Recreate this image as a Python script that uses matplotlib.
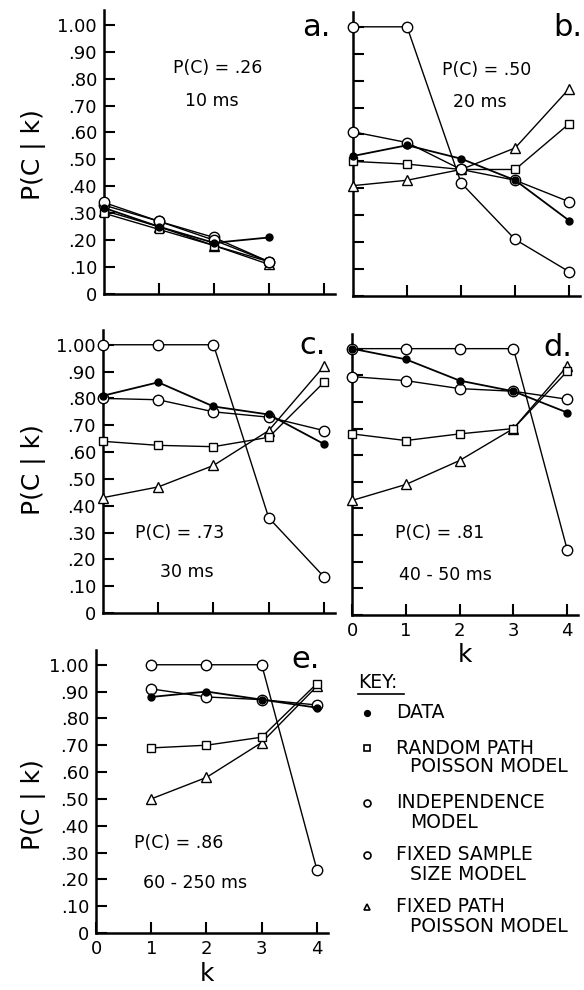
import matplotlib
matplotlib.use('Agg')
import matplotlib.pyplot as plt
from matplotlib.lines import Line2D

plt.rcParams['font.family'] = 'DejaVu Sans'

W, H = 584, 990

# number of items k at which P(C|k) is plotted
k_a = [0, 1, 2, 3]
k_bcd = [0, 1, 2, 3, 4]
k_e = [1, 2, 3, 4]

# panel a: 10 ms
a_data = [0.32, 0.25, 0.19, 0.21]
a_random = [0.30, 0.24, 0.18, 0.12]
a_indep = [0.33, 0.27, 0.21, 0.12]
a_fixsize = [0.34, 0.27, 0.20, 0.12]
a_fixpath = [0.31, 0.25, 0.18, 0.11]

# panel b: 20 ms
b_data = [0.52, 0.56, 0.51, 0.43, 0.28]
b_random = [0.50, 0.49, 0.47, 0.47, 0.64]
b_indep = [1.00, 1.00, 0.42, 0.21, 0.09]
b_fixsize = [0.61, 0.57, 0.47, 0.43, 0.35]
b_fixpath = [0.41, 0.43, 0.47, 0.55, 0.77]

# panel c: 30 ms
c_data = [0.81, 0.86, 0.77, 0.74, 0.63]
c_random = [0.64, 0.625, 0.62, 0.655, 0.86]
c_indep = [1.00, 1.00, 1.00, 0.355, 0.135]
c_fixsize = [0.80, 0.795, 0.75, 0.73, 0.68]
c_fixpath = [0.43, 0.47, 0.55, 0.68, 0.92]

# panel d: 40 - 50 ms
d_data = [1.00, 0.96, 0.88, 0.84, 0.76]
d_random = [0.68, 0.655, 0.68, 0.70, 0.915]
d_indep = [1.00, 1.00, 1.00, 1.00, 0.245]
d_fixsize = [0.895, 0.88, 0.85, 0.84, 0.81]
d_fixpath = [0.43, 0.49, 0.58, 0.70, 0.935]

# panel e: 60 - 250 ms
e_data = [0.88, 0.90, 0.87, 0.84]
e_random = [0.69, 0.70, 0.73, 0.93]
e_indep = [1.00, 1.00, 1.00, 0.235]
e_fixsize = [0.91, 0.88, 0.87, 0.85]
e_fixpath = [0.50, 0.58, 0.71, 0.92]

ytick_vals = [0, .1, .2, .3, .4, .5, .6, .7, .8, .9, 1.0]
ytick_labels = ['0', '.10', '.20', '.30', '.40', '.50', '.60', '.70', '.80', '.90', '1.00']
xtick_labels = ['0', '1', '2', '3', '4']

fig = plt.figure(figsize=(W / 100, H / 100), dpi=100)


def panel(l, r, t, b):
    ax = fig.add_axes([l / W, 1 - b / H, (r - l) / W, (b - t) / H])
    ax.set_xlim(0, 4.2)
    ax.set_ylim(0, 1.055)
    for s in ['top', 'right']:
        ax.spines[s].set_visible(False)
    for s in ['left', 'bottom']:
        ax.spines[s].set_linewidth(1.8)
    ax.tick_params(direction='in', length=8, width=1.5, labelsize=13, pad=5)
    ax.set_yticks(ytick_vals)
    return ax


def draw(ax, k, data, random, indep, fixsize, fixpath):
    kw = dict(color='k', lw=1.0, clip_on=False, mec='k', mfc='white')
    ax.plot(k, fixpath, marker='^', ms=7, zorder=3, **kw)
    ax.plot(k, random, marker='s', ms=6, zorder=3, **kw)
    ax.plot(k, indep, marker='o', ms=7.5, zorder=3, **kw)
    ax.plot(k, fixsize, marker='o', ms=7.5, zorder=3, **kw)
    ax.plot(k, data, color='k', lw=1.3, marker='o', ms=5, mfc='k', mec='k',
            clip_on=False, zorder=4)


ax_a = panel(104, 335, 10, 294)
draw(ax_a, k_a, a_data, a_random, a_indep, a_fixsize, a_fixpath)
ax_b = panel(353, 580, 12, 296)
draw(ax_b, k_bcd, b_data, b_random, b_indep, b_fixsize, b_fixpath)
ax_c = panel(103, 335, 330, 613)
draw(ax_c, k_bcd, c_data, c_random, c_indep, c_fixsize, c_fixpath)
ax_d = panel(352, 578, 334, 615)
draw(ax_d, k_bcd, d_data, d_random, d_indep, d_fixsize, d_fixpath)
ax_e = panel(96, 328, 650, 933)
draw(ax_e, k_e, e_data, e_random, e_indep, e_fixsize, e_fixpath)

for ax in [ax_a, ax_b, ax_c]:
    ax.set_xticks([1, 2, 3, 4])
    ax.set_xticklabels([])
for ax in [ax_d, ax_e]:
    ax.set_xticks([0, 1, 2, 3, 4])
    ax.set_xticklabels(xtick_labels)
for ax in [ax_a, ax_c, ax_e]:
    ax.set_yticklabels(ytick_labels)
for ax in [ax_b, ax_d]:
    ax.set_yticklabels([])

# overlay in pixel units for labels and key
ov = fig.add_axes([0, 0, 1, 1])
ov.set_xlim(0, W)
ov.set_ylim(H, 0)
ov.set_axis_off()
ov.patch.set_visible(False)

for y in [155, 470, 805]:
    ov.text(34, y, 'P(C | k)', rotation=90, ha='center', va='center', fontsize=18)
ov.text(465, 655, 'k', ha='center', va='center', fontsize=18)
ov.text(207, 974, 'k', ha='center', va='center', fontsize=18)

letters = [('a.', 316, 28), ('b.', 568, 28), ('c.', 313, 345), ('d.', 558, 348), ('e.', 306, 660)]
for s, x, y in letters:
    ov.text(x, y, s, ha='center', va='center', fontsize=22)

notes = [('P(C) = .26', 218, 68), ('10 ms', 212, 101),
         ('P(C) = .50', 487, 70), ('20 ms', 480, 102),
         ('P(C) = .73', 180, 533), ('30 ms', 187, 572),
         ('P(C) = .81', 440, 533), ('40 - 50 ms', 445, 575),
         ('P(C) = .86', 179, 843), ('60 - 250 ms', 195, 883)]
for s, x, y in notes:
    ov.text(x, y, s, ha='center', va='center', fontsize=12.5)

# key
ov.text(358, 683, 'KEY:', ha='left', va='center', fontsize=13.5)
ov.add_line(Line2D([358, 404], [694, 694], color='k', lw=1.2))
key_rows = [('o', 'k', 4, 'DATA', None, 713),
            ('s', 'white', 4.5, 'RANDOM PATH', 'POISSON MODEL', 748),
            ('o', 'white', 5, 'INDEPENDENCE', 'MODEL', 803),
            ('o', 'white', 5, 'FIXED SAMPLE', 'SIZE MODEL', 855),
            ('^', 'white', 5, 'FIXED PATH', 'POISSON MODEL', 907)]
for m, fc, ms, l1, l2, y in key_rows:
    ov.plot([367], [y], marker=m, mfc=fc, mec='k', ms=ms, mew=1.2, color='k')
    ov.text(396, y, l1, ha='left', va='center', fontsize=13.5)
    if l2:
        ov.text(410, y + 19, l2, ha='left', va='center', fontsize=13.5)

fig.savefig('out.png', dpi=100)
